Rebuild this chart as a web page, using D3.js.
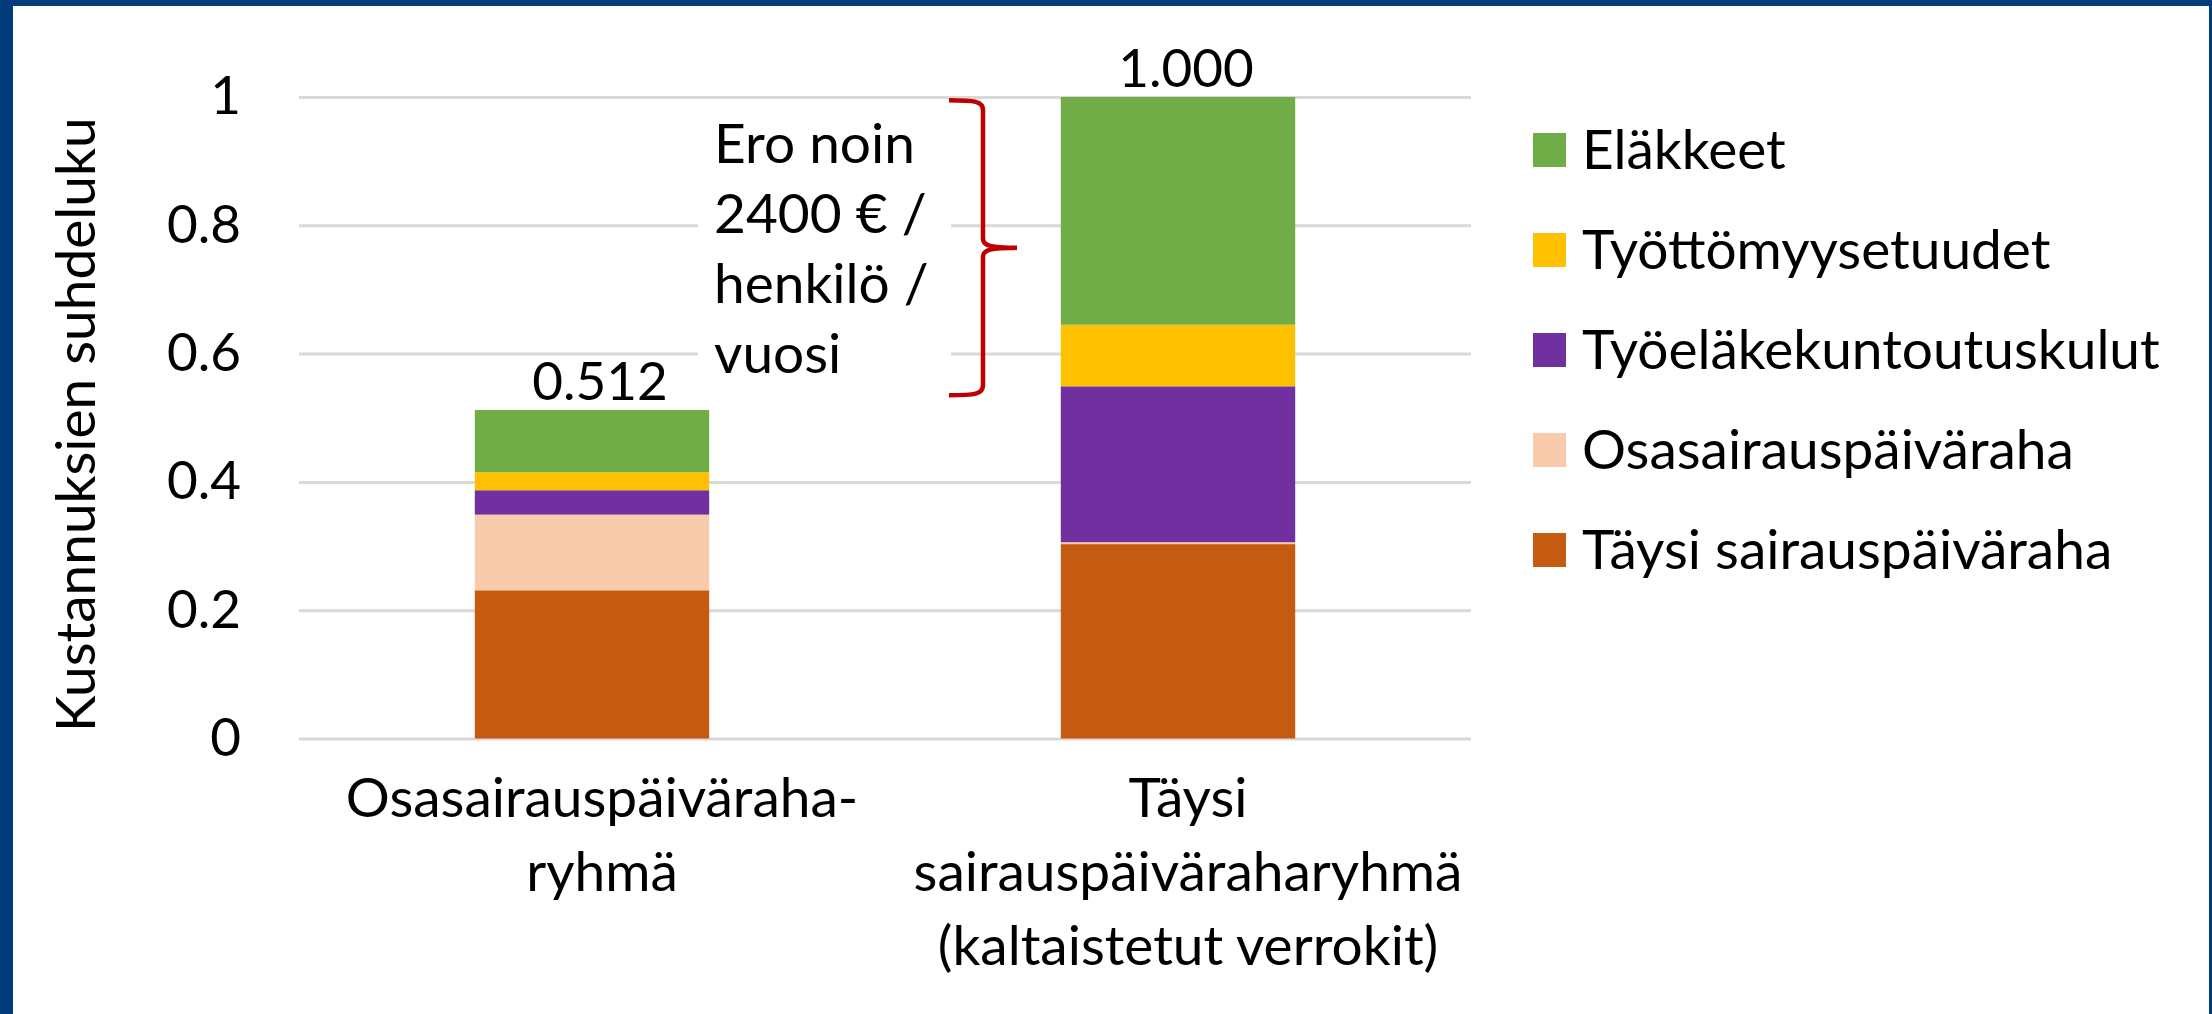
<!DOCTYPE html>
<html>
<head>
<meta charset="utf-8">
<script src="https://cdn.jsdelivr.net/npm/d3@7"></script>
<style>
  body { margin: 0; background: #fff; }
  svg { display: block; font-family: Lato, "Open Sans", sans-serif; }
</style>
</head>
<body>
<svg id="chart"></svg>
<script>
var screen = {width: 2212, height: 1014};

// data
var groups = ["Osasairauspäiväraha-ryhmä", "Täysi sairauspäiväraharyhmä (kaltaistetut verrokit)"];
var groupLines = [["Osasairauspäiväraha-", "ryhmä"], ["Täysi", "sairauspäiväraharyhmä", "(kaltaistetut verrokit)"]];
var series = ["Täysi sairauspäiväraha", "Osasairauspäiväraha", "Työeläkekuntoutuskulut", "Työttömyysetuudet", "Eläkkeet"];
var colors = ["#C55A11", "#F8CBAD", "#7030A0", "#FFC000", "#70AD47"];
var taysi = [0.231, 0.303];
var osa = [0.118, 0.003];
var tyoelake = [0.038, 0.243];
var tyottomyys = [0.028, 0.096];
var elakkeet = [0.097, 0.355];
var totals = ["0.512", "1.000"];
var yTicks = [0, 0.2, 0.4, 0.6, 0.8, 1];
var noteLines = ["Ero noin", "2400 € /", "henkilö /", "vuosi"];
var bracketRange = [0.535, 0.995];

var rows = groups.map(function(g, i) {
  return {group: g, "Täysi sairauspäiväraha": taysi[i], "Osasairauspäiväraha": osa[i],
    "Työeläkekuntoutuskulut": tyoelake[i], "Työttömyysetuudet": tyottomyys[i], "Eläkkeet": elakkeet[i]};
});

var fs = "55px";

var svg = d3.select("#chart")
  .attr("width", screen.width)
  .attr("height", screen.height);

// frame
var blue = "#003D7A";
svg.append("rect").attr("x", 0).attr("y", 0).attr("width", 13).attr("height", screen.height).attr("fill", blue);
svg.append("rect").attr("x", 0).attr("y", 0).attr("width", screen.width).attr("height", 6).attr("fill", blue);
svg.append("rect").attr("x", screen.width - 3).attr("y", 0).attr("width", 3).attr("height", screen.height).attr("fill", blue);

var xScale = d3.scaleBand()
  .domain(groups)
  .range([299, 1471])
  .paddingInner(0.6)
  .paddingOuter(0.3);

var yScale = d3.scaleLinear()
  .domain([0, 1])
  .range([738.5, 97]);

var cScale = d3.scaleOrdinal().domain(series).range(colors);

// gridlines + tick labels
var yAxis = d3.axisLeft(yScale)
  .tickValues(yTicks)
  .tickFormat(function(d) { return d === 0 || d === 1 ? d : d3.format(".1f")(d); })
  .tickSize(-(1471 - 299))
  .tickPadding(58);

var ga = svg.append("g")
  .attr("transform", "translate(299,0)")
  .call(yAxis);
ga.select(".domain").remove();
ga.selectAll(".tick line").attr("stroke", "#D9D9D9").attr("stroke-width", 3);
ga.selectAll(".tick text")
  .attr("fill", "#000")
  .style("font-size", "53px")
  .style("font-family", "Lato, sans-serif");

// stacked bars
var stack = d3.stack().keys(series)(rows);

svg.append("g").selectAll("g")
  .data(stack)
  .enter()
  .append("g")
  .attr("fill", function(d) { return cScale(d.key); })
  .selectAll("rect")
  .data(function(d) { return d; })
  .enter()
  .append("rect")
  .attr("x", function(d) { return xScale(d.data.group); })
  .attr("width", xScale.bandwidth())
  .attr("y", function(d) { return yScale(d[1]); })
  .attr("height", function(d) { return yScale(d[0]) - yScale(d[1]); });

// totals above bars
svg.append("g").selectAll("text")
  .data(groups)
  .enter()
  .append("text")
  .attr("x", function(d) { return xScale(d) + xScale.bandwidth() / 2 + 8; })
  .attr("y", function(d, i) { return yScale(stack[stack.length - 1][i][1]) - 10; })
  .attr("text-anchor", "middle")
  .style("font-size", "53px")
  .text(function(d, i) { return totals[i]; });

// category labels
var cat = svg.append("g").selectAll("text")
  .data(groups)
  .enter()
  .append("text")
  .attr("text-anchor", "middle")
  .style("font-size", fs)
  .attr("transform", function(d) {
    return "translate(" + (xScale(d) + xScale.bandwidth() / 2 + 10) + "," + (yScale(0) + 78) + ")";
  });
cat.selectAll("tspan")
  .data(function(d, i) { return groupLines[i]; })
  .enter()
  .append("tspan")
  .attr("x", 0)
  .attr("y", function(d, i) { return i * 74; })
  .text(function(d) { return d; });

// y axis title
svg.append("text")
  .attr("transform", "translate(95," + ((yScale(0) + yScale(1)) / 2 + 7) + ") rotate(-90)")
  .attr("text-anchor", "middle")
  .style("font-size", fs)
  .text("Kustannuksien suhdeluku");

// annotation: white box, text and brace
svg.append("rect")
  .attr("x", 698).attr("y", yScale(bracketRange[1]) + 5)
  .attr("width", 253).attr("height", yScale(bracketRange[0]) - yScale(bracketRange[1]))
  .attr("fill", "#fff");

svg.append("g").selectAll("text")
  .data(noteLines)
  .enter()
  .append("text")
  .attr("x", 714)
  .attr("y", function(d, i) { return 163 + i * 70; })
  .style("font-size", fs)
  .text(function(d) { return d; });

var bTop = yScale(bracketRange[1]), bBot = yScale(bracketRange[0]);
var bMid = (bTop + bBot) / 2;
var bx0 = 949, bx1 = 983, bx2 = 1017;
var p = d3.path();
p.moveTo(bx0, bTop);
p.bezierCurveTo(bx1 - 8, bTop, bx1, bTop + 1, bx1, bTop + 10);
p.lineTo(bx1, bMid - 9);
p.bezierCurveTo(bx1, bMid - 2, bx1 + 8, bMid, bx2, bMid);
p.bezierCurveTo(bx1 + 8, bMid, bx1, bMid + 2, bx1, bMid + 9);
p.lineTo(bx1, bBot - 10);
p.bezierCurveTo(bx1, bBot - 1, bx1 - 8, bBot, bx0, bBot);
svg.append("path")
  .attr("d", p.toString())
  .attr("fill", "none")
  .attr("stroke", "#C00000")
  .attr("stroke-width", 4.5);

// legend
var legend = svg.append("g").selectAll("g")
  .data(series.slice().reverse())
  .enter()
  .append("g")
  .attr("transform", function(d, i) { return "translate(1533," + (150 + i * 100) + ")"; });
legend.append("rect")
  .attr("x", 0).attr("y", -17)
  .attr("width", 33).attr("height", 34)
  .attr("fill", function(d) { return cScale(d); });
legend.append("text")
  .attr("x", 49)
  .attr("y", 19)
  .style("font-size", fs)
  .text(function(d) { return d; });
</script>
</body>
</html>
